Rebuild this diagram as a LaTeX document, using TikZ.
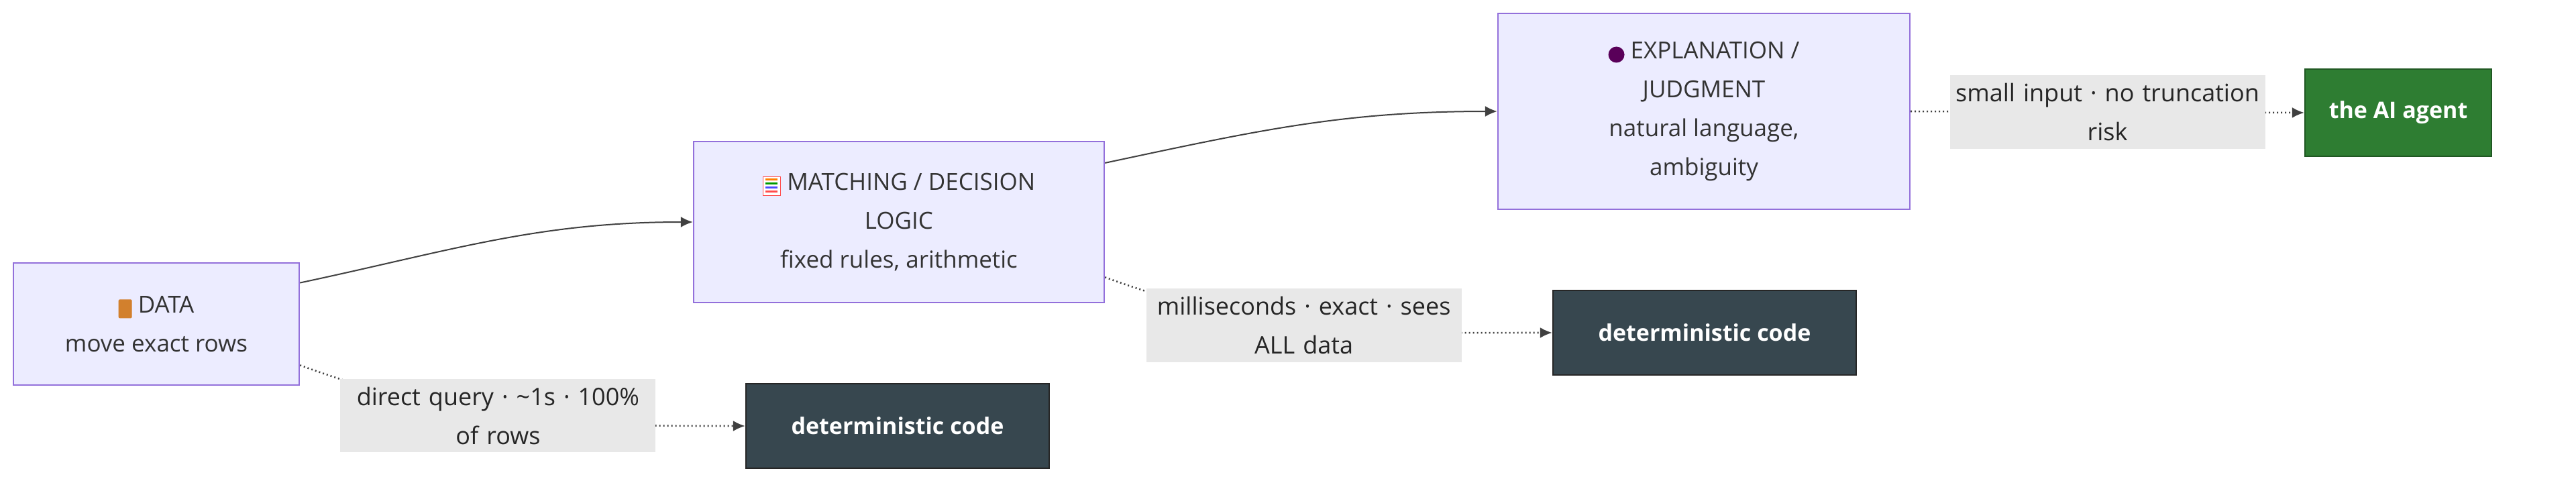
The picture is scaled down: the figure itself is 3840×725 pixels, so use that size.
\documentclass[tikz,border=0pt]{standalone}
\usepackage{fontspec}
\setmainfont{Open Sans}
\usetikzlibrary{arrows.meta}
\definecolor{stepfill}{HTML}{ECECFF}
\definecolor{stepline}{HTML}{9370DB}
\definecolor{codefill}{HTML}{37474F}
\definecolor{agentfill}{HTML}{2E7D32}
\definecolor{lblfill}{HTML}{E8E8E8}
\tikzset{
  stage/.style={draw=stepline, line width=1.2pt, fill=stepfill, align=center, font=\fontsize{17.5}{29}\selectfont, text=black!80},
  code/.style={draw=black!85, line width=1.2pt, fill=codefill, text=white, font=\fontsize{17}{29}\selectfont\bfseries, minimum width=226pt, minimum height=63pt},
  agent/.style={code, fill=agentfill, draw=agentfill!70!black, minimum width=139pt, minimum height=65pt},
  lbl/.style={fill=lblfill, align=center, text width=229pt, font=\fontsize{18}{29}\selectfont, text=black!85, inner xsep=3pt, inner ysep=6pt},
  flow/.style={-{Latex[length=9pt,width=8pt]}, line width=1pt, black!75},
  call/.style={flow, dotted, line width=1.3pt},
}
% small stand-ins for the emoji
\newcommand{\boxicon}{\tikz[baseline=-2pt]\fill[brown!70!orange, rounded corners=1pt] (0,-6pt) rectangle (10pt,8pt);}
\newcommand{\gridicon}{\tikz[baseline=-2pt]{\draw[red!70, fill=white, line width=0.8pt] (0,-6pt) rectangle (13pt,8pt);
  \foreach \c [count=\i] in {orange,green!60!black,blue!70,red!70}
    \draw[\c, line width=1.5pt] (2pt,{9pt-\i*3pt}) -- (11pt,{9pt-\i*3pt});}}
\newcommand{\headicon}{\tikz[baseline=-2pt]\fill[violet!70!black] (5pt,1pt) circle (6pt);}
\begin{document}
\begin{tikzpicture}[x=0.5pt, y=-0.5pt]
  \useasboundingbox (0,0) rectangle (3840,725);

  \node[stage, minimum width=213pt, minimum height=91pt] (data) at (233,483)
    {\boxicon\ DATA\\move exact rows};
  \node[stage, minimum width=306pt, minimum height=120pt] (match) at (1340,331)
    {\gridicon\ MATCHING / DECISION\\LOGIC\\fixed rules, arithmetic};
  \node[stage, minimum width=307pt, minimum height=146pt] (expl) at (2540,166)
    {\headicon\ EXPLANATION /\\JUDGMENT\\natural language,\\ambiguity};

  \node[code] (code1) at (1338,635) {deterministic code};
  \node[code] (code2) at (2541,496) {deterministic code};
  \node[agent] (agent) at (3575,168) {the AI agent};

  \draw[flow] (data.16) to[out=12, in=180] (match.west);
  \draw[flow] (match.16) to[out=12, in=180] (expl.west);

  \draw[call] (data.-16) to[out=-20, in=180]
    node[lbl, pos=0.45] {direct query · \textasciitilde1s · 100\%\\of rows} (code1.west);
  \draw[call] (match.-15) to[out=-20, in=180]
    node[lbl, pos=0.45] {milliseconds · exact · sees\\ALL data} (code2.west);
  \draw[call] (expl.east) --
    node[lbl] {small input · no truncation\\risk} (agent.west);
\end{tikzpicture}
\end{document}
